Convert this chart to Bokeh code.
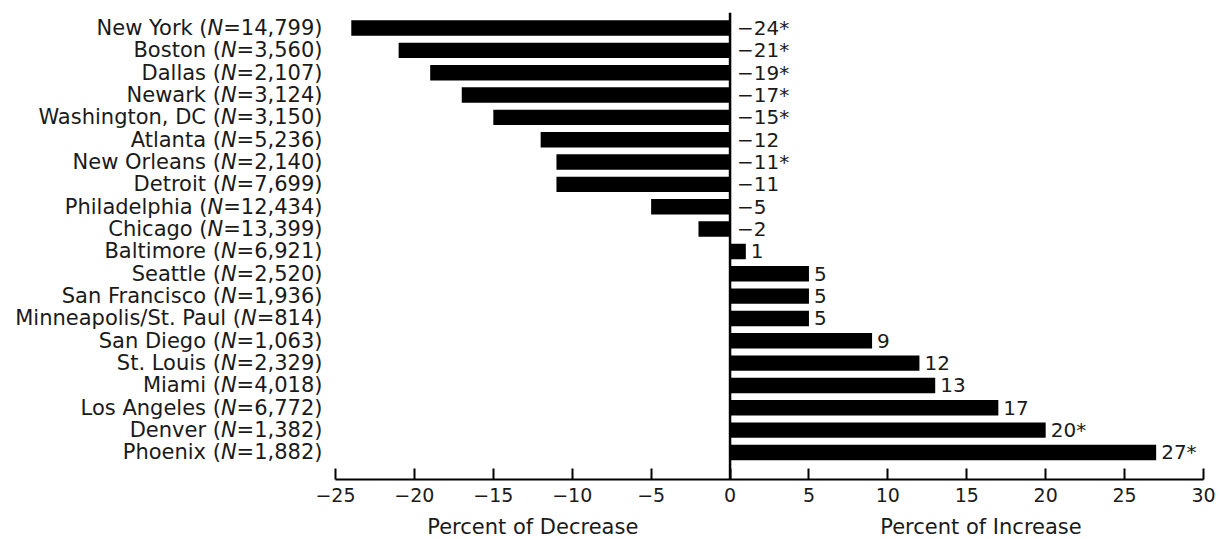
from bokeh.plotting import figure
from bokeh.models import (ColumnDataSource, Span, FixedTicker, CustomJSTickFormatter,
                          LinearAxis)
from bokeh.core.properties import value
from bokeh.embed import file_html
from bokeh.resources import INLINE

# ---------------- data ----------------
cities = ["New York", "Boston", "Dallas", "Newark", "Washington, DC", "Atlanta",
          "New Orleans", "Detroit", "Philadelphia", "Chicago", "Baltimore", "Seattle",
          "San Francisco", "Minneapolis/St. Paul", "San Diego", "St. Louis", "Miami",
          "Los Angeles", "Denver", "Phoenix"]
sample_n = [14799, 3560, 2107, 3124, 3150, 5236, 2140, 7699, 12434, 13399, 6921,
            2520, 1936, 814, 1063, 2329, 4018, 6772, 1382, 1882]
pct_change = [-24, -21, -19, -17, -15, -12, -11, -11, -5, -2, 1, 5, 5, 5, 9, 12,
              13, 17, 20, 27]
significant = [True, True, True, True, True, False, True, False, False, False,
               False, False, False, False, False, False, False, False, True, True]
x_ticks = [-25, -20, -15, -10, -5, 0, 5, 10, 15, 20, 25, 30]
axis_titles = ["Percent of Decrease", "Percent of Increase"]
axis_title_centers = [-12.5, 15.9]

# ---------------- layout constants ----------------
FONT = "DejaVu Sans"
LABEL_PX = 21
FRAME_W, FRAME_H = 1203, 467
X_START, X_END = -46.227, 30
Y_START, Y_END = -1.2086, 19.694
LABEL_RIGHT = 322  # px from frame left where category labels end

# DejaVu Sans advance widths (em) for the characters of the "=N)" part
ADV = {c: 0.636 for c in "0123456789"}
ADV.update({"=": 0.838, ",": 0.318, ")": 0.390, "N": 0.748})


def width_px(s, size):
    return sum(ADV[c] for c in s) * size


n = len(cities)
ys = [n - 1 - i for i in range(n)]
part1, part3, off1, off2, off3 = [], [], [], [], []
for c, nn in zip(cities, sample_n):
    p3 = "=" + f"{nn:,}" + ")"
    w3 = width_px(p3, LABEL_PX)
    wN = width_px("N", LABEL_PX)
    part1.append(c + " (")
    part3.append(p3)
    off3.append(LABEL_RIGHT)
    off2.append(LABEL_RIGHT - w3)
    off1.append(LABEL_RIGHT - w3 - wN)

val_labels = [("\u2212" if v < 0 else "") + str(abs(v)) + ("*" if s else "")
              for v, s in zip(pct_change, significant)]
val_x = [0 if v < 0 else v for v in pct_change]
val_off = [7 if v < 0 else 5 for v in pct_change]

src = ColumnDataSource(dict(
    y=ys, pct=pct_change, p1=part1, p2=["N"] * n, p3=part3,
    o1=off1, o2=off2, o3=off3, lx=[X_START] * n,
    vl=val_labels, vx=val_x, vo=val_off,
))

p = figure(frame_width=FRAME_W, frame_height=FRAME_H,
           x_range=(X_START, X_END), y_range=(Y_START, Y_END),
           output_backend="svg", toolbar_location=None, y_axis_location=None,
           min_border_left=0, min_border_right=17, min_border_top=12,
           min_border_bottom=10)
p.outline_line_color = None
p.xgrid.visible = False
p.ygrid.visible = False
p.background_fill_color = "white"

p.hbar(y="y", left=0, right="pct", height=0.69, source=src,
       fill_color="black", line_color=None)

p.add_layout(Span(location=0, dimension="height", line_color="black", line_width=2.5))

# category labels: "City (" + italic "N" + "=value)"
common = dict(source=src, y="y", x="lx", text_align="right", text_baseline="middle",
              text_font=value(FONT), text_font_size=f"{LABEL_PX}px", text_color="#1a1a1a")
p.text(text="p1", x_offset="o1", **common)
p.text(text="p2", x_offset="o2", text_font_style="italic", **common)
p.text(text="p3", x_offset="o3", **common)

# value labels
p.text(x="vx", y="y", text="vl", x_offset="vo", source=src, text_align="left",
       text_baseline="middle", text_font=value(FONT), text_font_size="20px",
       text_color="#1a1a1a")

ax = p.xaxis[0]
ax.ticker = FixedTicker(ticks=x_ticks)
ax.bounds = (x_ticks[0], x_ticks[-1])
ax.formatter = CustomJSTickFormatter(code="return tick < 0 ? '\\u2212' + Math.abs(tick) : '' + tick;")
ax.axis_line_width = 2
ax.axis_line_color = "black"
ax.major_tick_line_width = 2
ax.major_tick_line_color = "black"
ax.major_tick_in = 11
ax.major_tick_out = 0
ax.minor_tick_line_color = None
ax.major_label_standoff = 8
ax.major_label_text_font = FONT
ax.major_label_text_font_size = "19px"
ax.major_label_text_color = "#1a1a1a"

# second (label-only) axis carrying the two axis titles
tax = LinearAxis(
    ticker=FixedTicker(ticks=axis_title_centers),
    formatter=CustomJSTickFormatter(
        args=dict(titles=axis_titles, centers=axis_title_centers),
        code="""
        let best = 0;
        for (let i = 1; i < centers.length; i++)
            if (Math.abs(centers[i] - tick) < Math.abs(centers[best] - tick)) best = i;
        return titles[best];
        """),
    axis_line_color=None, major_tick_line_color=None, minor_tick_line_color=None,
    major_label_standoff=4, major_label_text_font=FONT,
    major_label_text_font_size="21px", major_label_text_color="#1a1a1a",
)
p.add_layout(tax, "below")

open("out.html", "w").write(file_html(p, INLINE))
